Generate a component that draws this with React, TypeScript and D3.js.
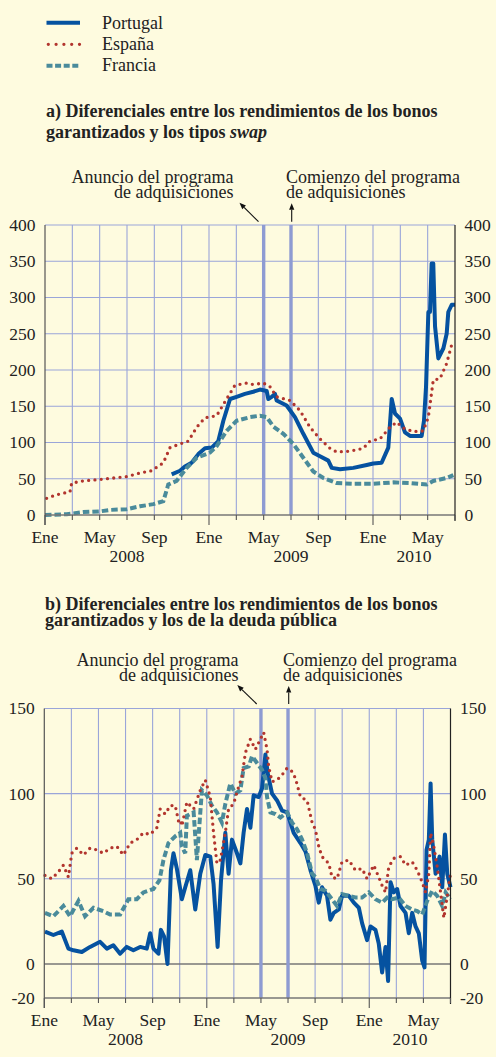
import React from "react";
import * as d3 from "d3";

type Pt = [number, number]; // [months since Jan 2008, basis points]

// ---------- DATA ----------
const SERIES_NAMES = ["Portugal", "España", "Francia"];
const MONTH_NAMES = ["Ene", "May", "Sep"];
const YEAR_LABELS: { label: string; m: number }[] = [
  { label: "2008", m: 6 },
  { label: "2009", m: 18 },
  { label: "2010", m: 27 },
];
const GRID_MONTHS = d3.range(0, 31, 2);
const LABEL_MONTHS = d3.range(0, 30, 4);
const EVENT_MONTHS = [16, 18];
const A_TICKS = [0, 50, 100, 150, 200, 250, 300, 350, 400];
const B_TICKS = [-20, 0, 50, 100, 150];

const A_PORTUGAL: Pt[] = [
  [9.27, 56], [9.88, 61], [10.24, 67], [10.73, 72], [11.22, 84], [11.71, 92], [12.2, 93],
  [12.68, 102], [13.05, 130], [13.54, 160], [14.02, 163], [14.63, 167], [15.24, 170],
  [15.73, 173], [16.22, 171], [16.34, 160], [16.59, 163], [16.83, 167], [16.95, 158],
  [17.68, 151], [18.29, 135], [18.9, 112], [19.63, 86], [20.12, 81], [20.73, 75],
  [20.98, 65], [21.59, 63], [22.56, 65], [23.54, 69], [24.02, 71], [24.63, 72],
  [25.12, 93], [25.37, 160], [25.61, 140], [25.98, 133], [26.34, 114], [26.71, 109],
  [27.56, 109], [27.73, 130], [27.88, 177], [28.05, 280], [28.17, 280], [28.29, 347],
  [28.41, 347], [28.54, 260], [28.78, 216], [29.15, 230], [29.39, 250], [29.51, 280],
  [29.76, 290], [30, 290],
];
const A_ESPANA: Pt[] = [
  [0.12, 23], [0.85, 28], [1.83, 32], [1.95, 44], [2.8, 47], [4.02, 49], [5.0, 51],
  [5.98, 53], [6.95, 58], [7.8, 61], [8.66, 72], [9.15, 93], [9.88, 98], [10.49, 102],
  [11.1, 121], [11.7, 134], [12.56, 137], [13.29, 160], [13.9, 179], [14.76, 182],
  [15.24, 180], [15.98, 182], [16.46, 177], [16.95, 163], [17.93, 158], [18.66, 144],
  [19.39, 121], [20.12, 105], [20.85, 92], [21.34, 87], [22.32, 88], [23.29, 92],
  [23.78, 102], [24.51, 105], [25.24, 121], [25.73, 128], [26.22, 120], [26.95, 115],
  [27.68, 116], [28.05, 135], [28.41, 186], [28.9, 188], [29.39, 209], [29.76, 235],
];
const A_FRANCIA: Pt[] = [
  [0, 0], [1.59, 1], [2.8, 4], [4.02, 5], [4.76, 7], [5.98, 8], [6.95, 12], [7.93, 15],
  [8.66, 19], [9.02, 42], [9.63, 47], [10.37, 65], [11.1, 79], [12.07, 86], [12.56, 95],
  [13.29, 116], [14.02, 130], [15.0, 135], [15.73, 137], [16.22, 135], [16.71, 122],
  [17.44, 112], [18.17, 98], [18.9, 79], [19.63, 60], [20.37, 51], [21.34, 44],
  [22.56, 43], [24.02, 43], [25.49, 45], [26.71, 44], [27.93, 42], [28.41, 47],
  [29.39, 51], [29.88, 55],
];

const B_PORTUGAL: Pt[] = [
  [0.05, 19], [0.67, 17], [1.29, 19], [1.78, 9], [2.15, 8], [2.77, 7], [3.38, 10],
  [4.12, 13], [4.62, 9], [5.1, 11], [5.6, 6], [6.09, 10], [6.58, 8], [7.08, 10],
  [7.57, 9], [7.82, 18], [8.06, 9], [8.43, 6], [8.61, 20], [8.85, 16], [9.1, 0],
  [9.35, 55], [9.54, 65], [9.79, 56], [10.16, 38], [10.41, 45], [10.78, 55],
  [11.15, 32], [11.52, 53], [11.89, 64], [12.26, 63], [12.5, 47], [12.8, 10],
  [13.05, 49], [13.37, 77], [13.61, 53], [13.86, 73], [14.23, 65], [14.48, 59],
  [14.72, 77], [14.97, 91], [15.22, 80], [15.46, 99], [15.83, 98], [16.08, 103],
  [16.33, 123], [16.5, 112], [16.82, 100], [17.19, 96], [17.56, 90], [17.93, 89],
  [18.42, 77], [18.92, 71], [19.29, 66], [19.66, 55], [20.02, 46], [20.27, 36],
  [20.51, 45], [20.88, 40], [21.13, 26], [21.38, 30], [21.75, 32], [21.99, 40],
  [22.49, 40], [22.86, 36], [23.23, 33], [23.47, 24], [23.84, 14], [24.09, 22],
  [24.46, 20], [24.7, 12], [24.95, -5], [25.2, 10], [25.39, -10], [25.57, 48],
  [25.81, 42], [26.06, 44], [26.31, 34], [26.68, 30], [26.92, 18], [27.17, 30],
  [27.42, 22], [27.66, 18], [27.91, 2], [28.08, -2], [28.23, 67], [28.4, 73],
  [28.53, 106], [28.65, 73], [28.9, 53], [29.19, 63], [29.39, 45], [29.59, 76],
  [29.76, 53], [30, 45],
];
const B_ESPANA: Pt[] = [
  [0.05, 52], [0.55, 50], [1.04, 54], [1.41, 58], [1.78, 51], [2.03, 65], [2.4, 68],
  [2.89, 64], [3.38, 68], [3.87, 67], [4.36, 65], [4.86, 68], [5.36, 69], [5.84, 64],
  [6.34, 71], [6.83, 73], [7.32, 77], [7.82, 76], [8.31, 80], [8.56, 91], [8.93, 88],
  [9.3, 93], [9.67, 93], [9.91, 84], [10.04, 85], [10.16, 81], [10.53, 95], [11.03, 91],
  [11.52, 102], [11.89, 108], [12.26, 98], [12.5, 77], [12.75, 59], [13.0, 61],
  [13.37, 77], [13.61, 91], [13.98, 94], [14.35, 104], [14.6, 110], [14.85, 124],
  [15.22, 132], [15.59, 126], [15.96, 132], [16.2, 136], [16.45, 126], [16.57, 116],
  [16.82, 107], [17.19, 108], [17.56, 111], [17.93, 115], [18.3, 113], [18.55, 109],
  [18.92, 98], [19.41, 96], [19.78, 83], [20.02, 79], [20.27, 69], [20.51, 63],
  [21.01, 59], [21.25, 51], [21.62, 50], [21.99, 60], [22.49, 61], [22.98, 55],
  [23.47, 56], [23.84, 50], [24.33, 58], [24.7, 51], [24.95, 46], [25.2, 42],
  [25.44, 57], [25.81, 62], [26.31, 63], [26.68, 58], [27.17, 60], [27.54, 55],
  [27.91, 48], [28.16, 42], [28.4, 53], [28.53, 77], [28.77, 69], [29.02, 57],
  [29.27, 42], [29.51, 27], [29.76, 40], [30, 53],
];
const B_FRANCIA: Pt[] = [
  [0.05, 30], [0.67, 28], [1.41, 34], [1.9, 28], [2.52, 37], [3.01, 28], [3.63, 33],
  [4.36, 31], [4.86, 29], [5.6, 29], [6.21, 38], [6.83, 38], [7.32, 42], [8.06, 44],
  [8.5, 49], [8.8, 61], [9.17, 71], [9.67, 75], [10.04, 77], [10.16, 69], [10.41, 65],
  [10.53, 87], [11.03, 89], [11.27, 61], [11.64, 102], [12.01, 99], [12.38, 93],
  [12.75, 89], [13.12, 83], [13.37, 94], [13.74, 106], [14.11, 100], [14.48, 102],
  [14.72, 115], [15.1, 116], [15.34, 122], [15.71, 118], [16.08, 114], [16.33, 109],
  [16.45, 98], [16.7, 89], [17.07, 88], [17.44, 86], [17.93, 89], [18.3, 83],
  [18.67, 79], [19.04, 73], [19.41, 65], [19.78, 53], [20.02, 51], [20.39, 44],
  [20.76, 43], [21.25, 38], [21.62, 34], [21.99, 41], [22.49, 40], [22.98, 39],
  [23.47, 39], [23.97, 42], [24.46, 38], [24.95, 36], [25.32, 39], [25.69, 38],
  [26.18, 39], [26.68, 34], [27.17, 32], [27.54, 31], [27.91, 29], [28.28, 37],
  [28.65, 43], [29.02, 40], [29.39, 34], [29.64, 42], [30, 38],
];

// ---------- STYLE ----------
const W = 496;
const H = 1057;
const BG = "#fefbdf";
const FONT = "'Liberation Serif', 'Times New Roman', serif";
const GRID = "#9aa5d9";
const EVENT = "#8e9bd2";
const AXIS = "#555";
const C_PT = "#0552a0";
const C_ES = "#b2352e";
const C_FR = "#4a8b9b";

type PanelProps = {
  x0: number; x1: number; yTop: number; yBottom: number;
  domain: [number, number]; ticks: number[];
  pt: Pt[]; es: Pt[]; fr: Pt[];
  zeroLine: boolean; ptWidth: number;
  title1: string; title2: React.ReactNode; titleX: number; titleY1: number; titleY2: number;
  annY1: number; annY2: number; annLeftEnd: number; annRightStart: number;
  arrow1: [number, number, number, number]; arrow2: [number, number, number, number];
};

function Arrow({ a }: { a: [number, number, number, number] }) {
  const [x1, y1, x2, y2] = a;
  const ang = Math.atan2(y2 - y1, x2 - x1);
  const L = 6.5, Wd = 2.6;
  const bx = x2 - L * Math.cos(ang), by = y2 - L * Math.sin(ang);
  const px = -Math.sin(ang) * Wd, py = Math.cos(ang) * Wd;
  return (
    <g>
      <line x1={x1} y1={y1} x2={bx} y2={by} stroke="#111" strokeWidth={1.1} />
      <polygon points={`${x2},${y2} ${bx + px},${by + py} ${bx - px},${by - py}`} fill="#111" />
    </g>
  );
}

function Panel(p: PanelProps) {
  const x = d3.scaleLinear().domain([0, 30]).range([p.x0, p.x1]);
  const y = d3.scaleLinear().domain(p.domain).range([p.yBottom, p.yTop]);
  const line = d3.line<Pt>().x((d) => x(d[0])).y((d) => y(d[1])).curve(d3.curveLinear);
  const axisY = p.yBottom;
  const dy2 = p.annY2 - p.annY1;
  return (
    <g>
      <text x={p.titleX} y={p.titleY1} fontFamily={FONT} fontWeight="bold" fontSize={18} fill="#222">
        <tspan x={p.titleX} y={p.titleY1}>{p.title1}</tspan>
        <tspan x={p.titleX} y={p.titleY2}>{p.title2}</tspan>
      </text>

      <text textAnchor="end" fontFamily={FONT} fontSize={18} fill="#222">
        <tspan x={p.annLeftEnd} y={p.annY1}>Anuncio del programa</tspan>
        <tspan x={p.annLeftEnd} y={p.annY1 + dy2}>de adquisiciones</tspan>
      </text>
      <text textAnchor="start" fontFamily={FONT} fontSize={18} fill="#222">
        <tspan x={p.annRightStart} y={p.annY1}>Comienzo del programa</tspan>
        <tspan x={p.annRightStart} y={p.annY1 + dy2}>de adquisiciones</tspan>
      </text>
      <Arrow a={p.arrow1} />
      <Arrow a={p.arrow2} />

      {/* grid */}
      {GRID_MONTHS.filter((m) => m > 0 && m < 30).map((m) => (
        <line key={"v" + m} x1={x(m)} x2={x(m)} y1={p.yTop} y2={axisY} stroke={GRID} strokeWidth={1.1} />
      ))}
      {p.ticks.filter((t) => t !== p.domain[0]).map((t) => (
        <line key={"h" + t} x1={p.x0} x2={p.x1} y1={y(t)} y2={y(t)}
          stroke={p.zeroLine && t === 0 ? "#777" : GRID} strokeWidth={p.zeroLine && t === 0 ? 1.6 : 1.1} />
      ))}
      {EVENT_MONTHS.map((m) => (
        <line key={"e" + m} x1={x(m)} x2={x(m)} y1={p.yTop} y2={axisY} stroke={EVENT} strokeWidth={3.4} />
      ))}

      {/* series */}
      <path d={line(p.pt) || ""} fill="none" stroke={C_PT} strokeWidth={p.ptWidth} strokeLinejoin="round" />
      <path d={line(p.fr) || ""} fill="none" stroke={C_FR} strokeWidth={4} strokeDasharray="6.5 3" />
      <path d={line(p.es) || ""} fill="none" stroke={C_ES} strokeWidth={3.3} strokeDasharray="0 6.3" strokeLinecap="round" />

      {/* axes */}
      <line x1={p.x0} x2={p.x1} y1={axisY} y2={axisY} stroke="#777" strokeWidth={1.4} />
      <line x1={p.x0} x2={p.x0} y1={p.yTop} y2={axisY + 10} stroke={AXIS} strokeWidth={1.2} />
      <line x1={p.x1} x2={p.x1} y1={p.yTop} y2={axisY + 6} stroke="#222" strokeWidth={1.2} />
      {GRID_MONTHS.map((m) => (
        <line key={"t" + m} x1={x(m)} x2={x(m)} y1={axisY} y2={axisY + (m % 12 === 0 ? 10 : 5)} stroke={AXIS} strokeWidth={1.1} />
      ))}
      {p.ticks.map((t) => (
        <g key={"yl" + t}>
          <text x={p.x0 - 9.5} y={y(t)} dy="0.34em" textAnchor="end" fontFamily={FONT} fontSize={17.5} fill="#222">{t}</text>
          <text x={p.x1 + 9.5} y={y(t)} dy="0.34em" textAnchor="start" fontFamily={FONT} fontSize={17.5} fill="#222">{t}</text>
        </g>
      ))}
      {LABEL_MONTHS.map((m) => (
        <text key={"xl" + m} x={x(m)} y={axisY + 27.5} textAnchor="middle" fontFamily={FONT} fontSize={17.5} fill="#222">
          {MONTH_NAMES[(m / 4) % 3]}
        </text>
      ))}
      {YEAR_LABELS.map((yl) => (
        <text key={yl.label} x={x(yl.m)} y={axisY + 46.5} textAnchor="middle" fontFamily={FONT} fontSize={17.5} fill="#222">
          {yl.label}
        </text>
      ))}
    </g>
  );
}

export default function App() {
  const legendY = [22.7, 44.3, 65.7];
  const legendTextY = [28.5, 49.8, 71];
  return (
    <svg width={W} height={H} viewBox={`0 0 ${W} ${H}`}
      style={{ position: "absolute", left: 0, top: 0, display: "block" }}>
      <rect x={0} y={0} width={W} height={H} fill={BG} />

      {/* legend */}
      <line x1={46.5} x2={80} y1={legendY[0]} y2={legendY[0]} stroke={C_PT} strokeWidth={4} />
      <line x1={48.3} x2={80} y1={legendY[1]} y2={legendY[1]} stroke={C_ES} strokeWidth={3.3} strokeDasharray="0 7.8" strokeLinecap="round" />
      <line x1={46.5} x2={80} y1={legendY[2]} y2={legendY[2]} stroke={C_FR} strokeWidth={4} strokeDasharray="6 2.6" />
      {SERIES_NAMES.map((s, i) => (
        <text key={s} x={102} y={legendTextY[i]} fontFamily={FONT} fontSize={18} fill="#222">{s}</text>
      ))}

      <Panel
        x0={45} x1={455} yTop={225} yBottom={515} domain={[0, 400]} ticks={A_TICKS}
        pt={A_PORTUGAL} es={A_ESPANA} fr={A_FRANCIA} zeroLine={false} ptWidth={4}
        title1="a) Diferenciales entre los rendimientos de los bonos"
        title2={<>garantizados y los tipos <tspan fontStyle="italic">swap</tspan></>}
        titleX={46} titleY1={116.5} titleY2={138}
        annY1={182.7} annY2={198.3} annLeftEnd={233.5} annRightStart={286}
        arrow1={[258.5, 221.7, 239.5, 202.7]} arrow2={[291.7, 221.7, 291.7, 203.3]}
      />
      <Panel
        x0={44.3} x1={450.5} yTop={708.5} yBottom={998} domain={[-20, 150]} ticks={B_TICKS}
        pt={B_PORTUGAL} es={B_ESPANA} fr={B_FRANCIA} zeroLine={true} ptWidth={4}
        title1="b) Diferenciales entre los rendimientos de los bonos"
        title2="garantizados y los de la deuda pública"
        titleX={45} titleY1={609.5} titleY2={625.5}
        annY1={666} annY2={680.7} annLeftEnd={238.5} annRightStart={283}
        arrow1={[256.7, 704, 237.3, 685]} arrow2={[288.7, 704, 288.7, 686]}
      />
    </svg>
  );
}
